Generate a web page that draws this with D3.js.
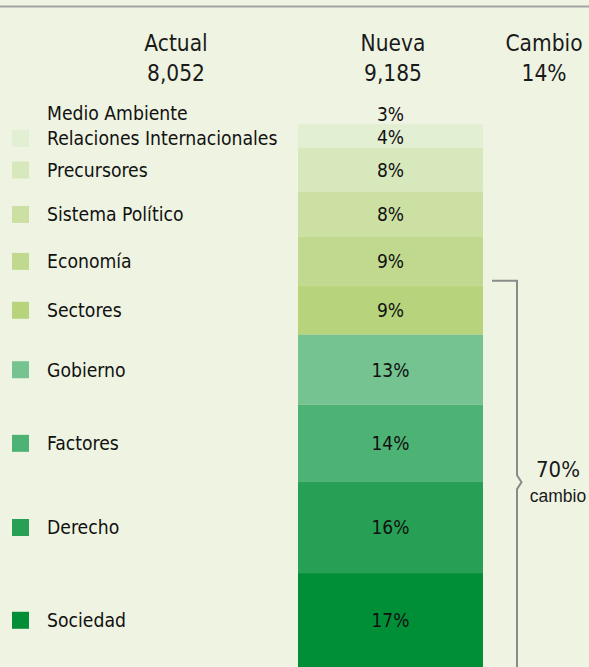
<html>
<head>
<meta charset="utf-8">
<style>
  body {
    margin: 0;
    background-color: #eff4e2;
  }
  svg {
    display: block;
    font-family: "Liberation Sans Narrow", "DejaVu Sans Condensed", sans-serif;
  }
  .head text { fill: #1a1a1a; font-size: 22.5px; }
  .legend text { fill: #111; font-size: 19.2px; }
  .pct { fill: #111; font-size: 19px; text-anchor: middle; }
  .bracket { fill: none; stroke: #8a8a8a; stroke-width: 2px; }
</style>
</head>
<body>
<script src="https://d3js.org/d3.v7.min.js"></script>
<script>
// columns at the top
var columns = ["Actual", "Nueva", "Cambio"];
var columnTotals = ["8,052", "9,185", "14%"];

// segments of the "Nueva" stack, top to bottom
var categories = ["Medio Ambiente", "Relaciones Internacionales", "Precursores", "Sistema Político",
                  "Economía", "Sectores", "Gobierno", "Factores", "Derecho", "Sociedad"];
var shares = [3.0, 4.3, 7.9, 8.1, 8.8, 8.8, 12.6, 13.9, 16.4, 17.0];
var shareLabels = ["3%", "4%", "8%", "8%", "9%", "9%", "13%", "14%", "16%", "17%"];
var colors = ["#eff4e2", "#e3efd2", "#d8e8bd", "#cde0a3", "#c1d98e",
              "#b7d47c", "#74c391", "#4db374", "#27a055", "#008f36"];

// bracket on the right
var bracketFrom = "Sectores";
var bracketValue = "70%";
var bracketText = "cambio";

var width = 589, height = 667;

var svg = d3.select("body").append("svg")
    .attr("width", width)
    .attr("height", height);

// top rule
svg.append("line")
    .attr("x1", 0).attr("x2", width)
    .attr("y1", 6.5).attr("y2", 6.5)
    .style("stroke", "#a3a3a3")
    .style("stroke-width", 2);

// stack the data
var data = [];
var acc = 0;
categories.forEach(function(c, i) {
    data.push({name: c, value: shares[i], label: shareLabels[i], color: colors[i], y0: acc, y1: acc + shares[i]});
    acc += shares[i];
});
var total = acc;

var x = d3.scaleOrdinal()
    .domain(columns)
    .range([176, 393, 544]);

var y = d3.scaleLinear()
    .domain([0, total])
    .range([107.5, 667.5]);

var barWidth = 185;
var barCenter = x("Nueva") - 2.5;

// headers
var head = svg.append("g").attr("class", "head");
head.selectAll(".colname")
    .data(columns)
    .enter().append("text")
    .attr("x", function(d) { return x(d); })
    .attr("y", 50.5)
    .attr("text-anchor", "middle")
    .text(function(d) { return d; });

head.selectAll(".coltotal")
    .data(columnTotals)
    .enter().append("text")
    .attr("x", function(d, i) { return x(columns[i]); })
    .attr("y", 80.5)
    .attr("text-anchor", "middle")
    .text(function(d) { return d; });

// the bar
svg.selectAll(".seg")
    .data(data)
    .enter().append("rect")
    .attr("class", "seg")
    .attr("x", barCenter - barWidth / 2)
    .attr("width", barWidth)
    .attr("y", function(d) { return y(d.y0); })
    .attr("height", function(d) { return y(d.y1) - y(d.y0); })
    .style("fill", function(d) { return d.color; });

// label positions: centre of each segment, pushed apart when too close
function spread(minGap) {
    var pos = data.map(function(d) { return (y(d.y0) + y(d.y1)) / 2; });
    for (var k = 0; k < 20; k++) {
        for (var i = 1; i < pos.length; i++) {
            var gap = pos[i] - pos[i - 1];
            if (gap < minGap) {
                var push = (minGap - gap) / 2;
                pos[i - 1] -= push;
                pos[i] += push;
            }
        }
    }
    return pos;
}
var legendY = spread(25);
var pctY = spread(23);

svg.selectAll(".pct")
    .data(data)
    .enter().append("text")
    .attr("class", "pct")
    .attr("x", barCenter)
    .attr("y", function(d, i) { return pctY[i]; })
    .attr("dy", "0.36em")
    .text(function(d) { return d.label; });

// legend
var legend = svg.append("g").attr("class", "legend");
var rows = legend.selectAll(".row")
    .data(data)
    .enter().append("g")
    .attr("transform", function(d, i) { return "translate(12," + legendY[i] + ")"; });

rows.filter(function(d, i) { return i > 0; })
    .append("rect")
    .attr("x", 0)
    .attr("y", -8.5)
    .attr("width", 17)
    .attr("height", 17)
    .style("fill", function(d) { return d.color; });

rows.append("text")
    .attr("x", 35)
    .attr("dy", "0.36em")
    .text(function(d) { return d.name; });

// bracket
var start = data.filter(function(d) { return d.name === bracketFrom; })[0];
var bTop = y(start.y0) - 5;
var bBottom = y(total) + 16;
var bMid = (bTop + bBottom) / 2;
var bx = barCenter + barWidth / 2 + 34;

svg.append("path")
    .attr("class", "bracket")
    .attr("d", d3.line()([
        [bx - 25, bTop], [bx, bTop], [bx, bMid - 7], [bx + 4.5, bMid], [bx, bMid + 7], [bx, bBottom]
    ]));

svg.append("text")
    .attr("x", 558)
    .attr("y", bMid - 5)
    .attr("text-anchor", "middle")
    .style("font-size", "22px")
    .style("fill", "#1a1a1a")
    .text(bracketValue);

svg.append("text")
    .attr("x", 558)
    .attr("y", bMid + 20)
    .attr("text-anchor", "middle")
    .style("font-family", "'Liberation Sans', Arial, sans-serif")
    .style("font-size", "17.5px")
    .style("fill", "#1a1a1a")
    .text(bracketText);
</script>
</body>
</html>
